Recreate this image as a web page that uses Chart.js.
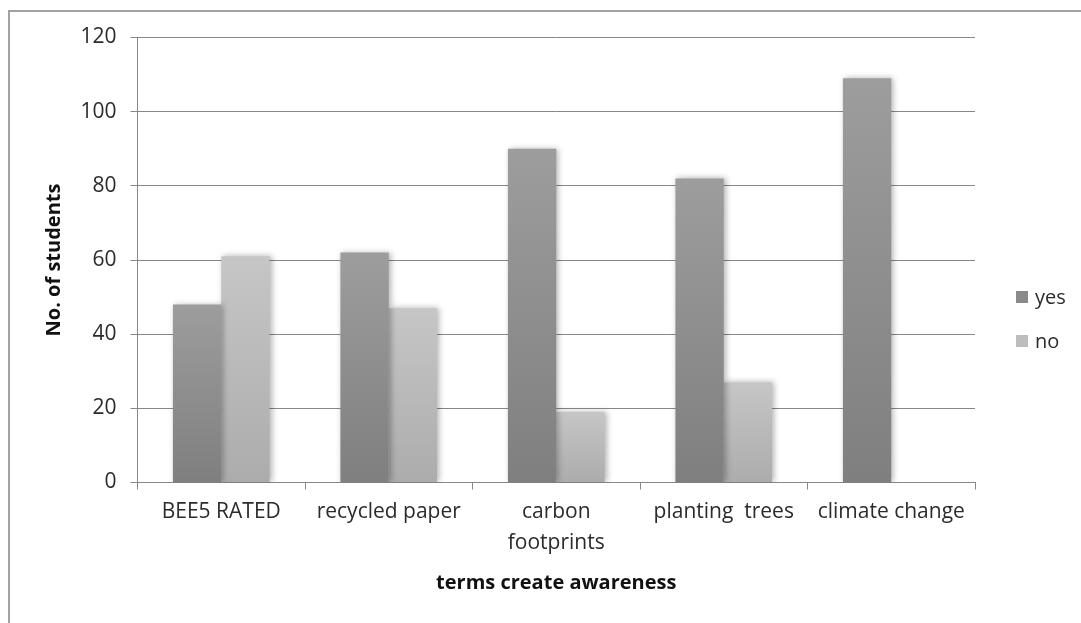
<!DOCTYPE html>
<html>
<head>
<meta charset="utf-8">
<title>terms create awareness</title>
<script src="https://cdn.jsdelivr.net/npm/chart.js@4/dist/chart.umd.min.js"></script>
<style>
  html, body { margin: 0; padding: 0; background: #ffffff; overflow: hidden; }
  #frame { position: absolute; left: 8px; top: 10px; width: 1100px; height: 700px;
           border: 2px solid #a2a2a2; box-sizing: border-box; }
  #wrap { position: absolute; left: 0; top: 0; width: 1081px; height: 623px; }
</style>
</head>
<body>
<div id="frame"></div>
<div id="wrap"><canvas id="chart" width="1081" height="623"></canvas></div>
<script>
// Categories (one per bar group) and the two answer series
const categories = ['BEE5 RATED', 'recycled paper', ['carbon', 'footprints'], 'planting  trees', 'climate change'];
const yesValues = [48, 62, 90, 82, 109];
const noValues = [61, 47, 19, 27, 0];
const seriesNames = ['yes', 'no'];
const yTicks = [0, 20, 40, 60, 80, 100, 120];

const FONT = '"Open Sans", "Noto Sans", sans-serif';
const AXIS_GREY = '#878787';

// Vertical gradient for each bar, from its base up to its top
function barGradient(top, bottom) {
  return function (ctx) {
    const chart = ctx.chart;
    const y = chart.scales && chart.scales.y;
    if (!chart.chartArea || !y || ctx.raw === undefined) return bottom;
    const y0 = y.getPixelForValue(0);
    const y1 = y.getPixelForValue(ctx.raw);
    if (Math.abs(y0 - y1) < 1) return bottom;
    const g = chart.ctx.createLinearGradient(0, y1, 0, y0);
    g.addColorStop(0, top);
    g.addColorStop(1, bottom);
    return g;
  };
}

// Soft glow behind the bars
const barShadow = {
  id: 'barShadow',
  beforeDatasetsDraw(chart) {
    const c = chart.ctx;
    c.save();
    c.shadowColor = 'rgba(0,0,0,0.30)';
    c.shadowBlur = 6;
    c.shadowOffsetX = 2;
    c.shadowOffsetY = 0;
  },
  afterDatasetsDraw(chart) {
    chart.ctx.restore();
  }
};

// Legend at the right of the plot
const sideLegend = {
  id: 'sideLegend',
  afterDraw(chart) {
    const c = chart.ctx;
    const swatches = ['#8a8a8a', '#bdbdbd'];
    const rows = [297, 341];
    c.save();
    c.font = '20px ' + FONT;
    c.textBaseline = 'middle';
    c.textAlign = 'left';
    chart.data.datasets.forEach((ds, i) => {
      c.fillStyle = swatches[i];
      c.fillRect(1016, rows[i] - 6, 12, 12);
      c.fillStyle = '#2b2b2b';
      c.fillText(ds.label, 1035, rows[i] + 1);
    });
    c.restore();
  }
};

new Chart(document.getElementById('chart'), {
  type: 'bar',
  data: {
    labels: categories,
    datasets: [
      { label: seriesNames[0], data: yesValues,
        backgroundColor: barGradient('#9d9d9d', '#7f7f7f'), borderWidth: 0 },
      { label: seriesNames[1], data: noValues,
        backgroundColor: barGradient('#c6c6c6', '#acacac'), borderWidth: 0 }
    ]
  },
  options: {
    responsive: false,
    animation: false,
    devicePixelRatio: 1,
    layout: { padding: { left: 0, top: 37.5, right: 106, bottom: 0 } },
    datasets: { bar: { categoryPercentage: 0.577, barPercentage: 1.0 } },
    plugins: {
      legend: { display: false },
      tooltip: { enabled: false }
    },
    scales: {
      x: {
        offset: true,
        grid: { display: true, drawOnChartArea: false, drawTicks: true, tickLength: 7,
                color: AXIS_GREY, offset: true, lineWidth: 1 },
        border: { display: true, color: AXIS_GREY, width: 1 },
        ticks: { color: '#2b2b2b', font: { family: FONT, size: 21, lineHeight: 1.43 },
                 padding: 8, maxRotation: 0, autoSkip: false },
        title: { display: true, text: 'terms create awareness', color: '#111',
                 font: { family: FONT, size: 20, weight: 'bold' },
                 padding: { top: 0, bottom: 28 } },
        afterFit(scale) { scale.height = 140.5; }
      },
      y: {
        min: 0,
        max: 120,
        afterBuildTicks(scale) { scale.ticks = yTicks.map(v => ({ value: v })); },
        grid: { color: AXIS_GREY, tickLength: 7, drawTicks: true, lineWidth: 1 },
        border: { display: true, color: AXIS_GREY, width: 1 },
        ticks: { color: '#2b2b2b', font: { family: FONT, size: 21 }, padding: 14 },
        title: { display: true, text: 'No. of students', color: '#111',
                 font: { family: FONT, size: 20, weight: 'bold' },
                 padding: { top: 42, bottom: 0 } },
        afterFit(scale) { scale.width = 137.5; }
      }
    }
  },
  plugins: [barShadow, sideLegend]
});
</script>
</body>
</html>
